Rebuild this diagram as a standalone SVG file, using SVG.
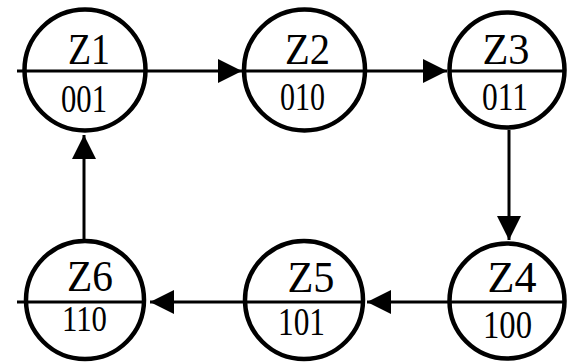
<svg xmlns="http://www.w3.org/2000/svg" width="568" height="362" viewBox="0 0 568 362">
<style>
.c{fill:#fff;stroke:#000;stroke-width:4.5}
.d{stroke:#000;stroke-width:3}
.e{stroke:#000;stroke-width:3;fill:none;marker-end:url(#ah)}
.t{font-family:"Liberation Serif","Times New Roman",serif;font-size:45px;fill:#000;text-anchor:middle}
.b{font-size:40px}
.s{font-size:36px}
</style>
<defs>
<marker id="ah" viewBox="0 0 24 24" refX="24" refY="12" markerWidth="24" markerHeight="24" markerUnits="userSpaceOnUse" orient="auto">
<path d="M0,0 L24,12 L0,24 Z" fill="#000"/>
</marker>
</defs>
<rect width="568" height="362" fill="#fff"/>
<g id="connectors">
<line class="e" x1="147" y1="71" x2="242" y2="71"/>
<line class="e" x1="367" y1="71" x2="447" y2="71"/>
<line class="e" x1="509" y1="130" x2="509" y2="240"/>
<line class="e" x1="449" y1="302" x2="367" y2="302"/>
<line class="e" x1="243" y1="302" x2="150" y2="302"/>
<line class="e" x1="84" y1="240" x2="84" y2="135"/>
</g>
<g id="Z1">
<circle class="c" cx="85" cy="70" r="60.5"/>
<line class="d" x1="17" y1="71" x2="147" y2="71"/>
<text class="t" x="89" y="64" textLength="42" lengthAdjust="spacingAndGlyphs">Z1</text>
<text class="t b" x="84" y="112" textLength="46" lengthAdjust="spacingAndGlyphs">001</text>
</g>
<g id="Z2">
<circle class="c" cx="304.5" cy="70" r="60.5"/>
<line class="d" x1="244" y1="71" x2="367" y2="71"/>
<text class="t" x="307.5" y="64" textLength="45" lengthAdjust="spacingAndGlyphs">Z2</text>
<text class="t b" x="302.5" y="110" textLength="45" lengthAdjust="spacingAndGlyphs">010</text>
</g>
<g id="Z3">
<circle class="c" cx="507" cy="70" r="57.5"/>
<line class="d" x1="449" y1="71" x2="565" y2="71"/>
<text class="t" x="506" y="64" textLength="47" lengthAdjust="spacingAndGlyphs">Z3</text>
<text class="t b" x="505" y="110" textLength="46" lengthAdjust="spacingAndGlyphs">011</text>
</g>
<g id="Z4">
<circle class="c" cx="507" cy="301" r="57.5"/>
<line class="d" x1="449" y1="302" x2="565" y2="302"/>
<text class="t" x="512" y="292" textLength="49" lengthAdjust="spacingAndGlyphs">Z4</text>
<text class="t b" x="507.5" y="338" textLength="49" lengthAdjust="spacingAndGlyphs">100</text>
</g>
<g id="Z5">
<circle class="c" cx="304" cy="300" r="59"/>
<line class="d" x1="243" y1="302" x2="365" y2="302"/>
<text class="t" x="311" y="292" textLength="47" lengthAdjust="spacingAndGlyphs">Z5</text>
<text class="t b" x="301.5" y="335" textLength="47" lengthAdjust="spacingAndGlyphs">101</text>
</g>
<g id="Z6">
<circle class="c" cx="85" cy="300" r="59"/>
<line class="d" x1="17" y1="302" x2="146" y2="302"/>
<text class="t" x="90" y="291" textLength="46" lengthAdjust="spacingAndGlyphs">Z6</text>
<text class="t s" x="84.5" y="331" textLength="45" lengthAdjust="spacingAndGlyphs">110</text>
</g>
</svg>
